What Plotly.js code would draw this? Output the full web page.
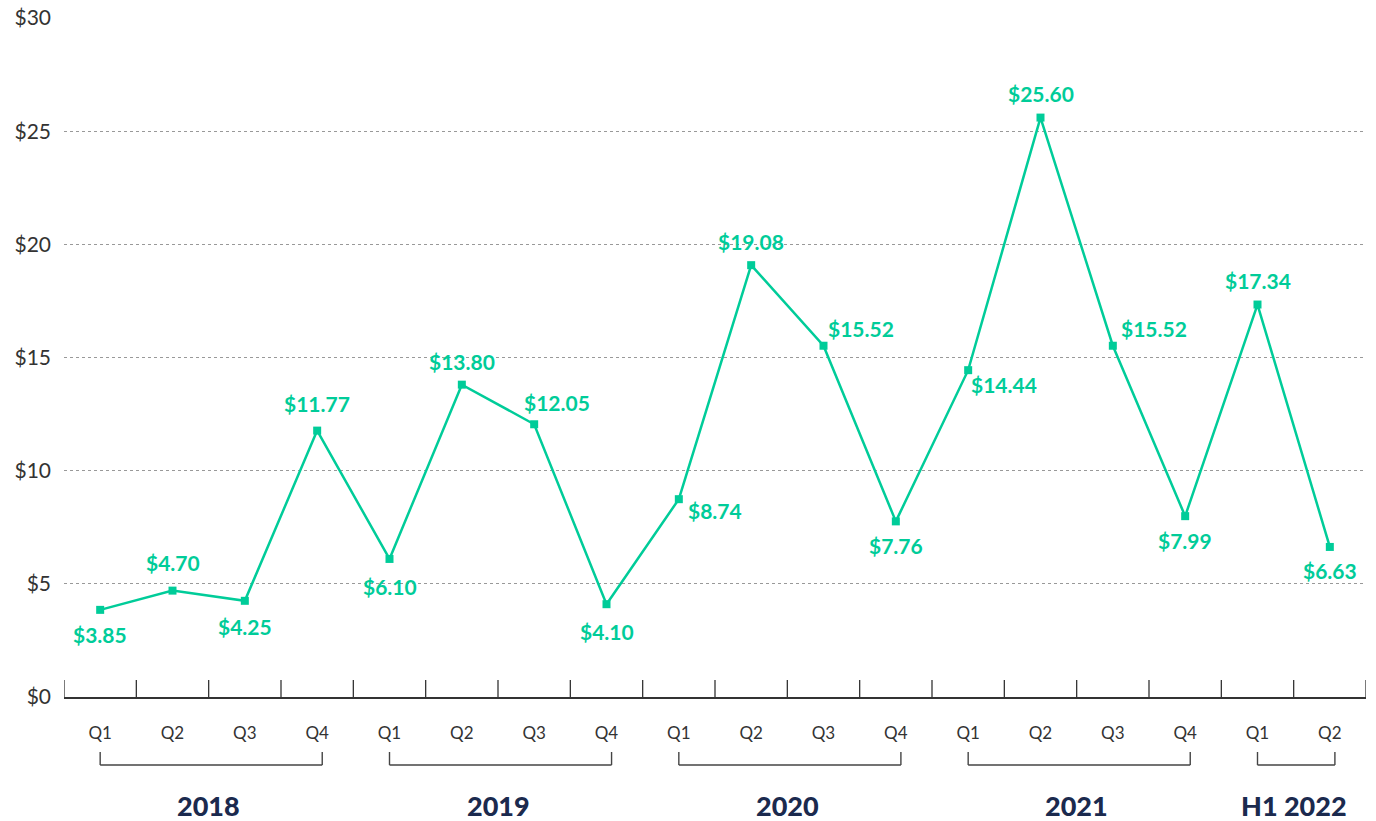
<!DOCTYPE html>
<html>
<head>
<meta charset="utf-8">
<script src="https://cdn.plot.ly/plotly-3.0.1.min.js"></script>
<style>html,body{margin:0;padding:0;background:#fff;}#chart{width:1376px;height:821px;}</style>
</head>
<body>
<div id="chart"></div>
<script>
// Data
const quarters = ["Q1","Q2","Q3","Q4","Q1","Q2","Q3","Q4","Q1","Q2","Q3","Q4","Q1","Q2","Q3","Q4","Q1","Q2"];
const values = [3.85, 4.70, 4.25, 11.77, 6.10, 13.80, 12.05, 4.10, 8.74, 19.08, 15.52, 7.76, 14.44, 25.60, 15.52, 7.99, 17.34, 6.63];
const groupLabels = ["2018", "2019", "2020", "2021", "H1 2022"];
const groupSizes = [4, 4, 4, 4, 2];
const yTickVals = [0, 5, 10, 15, 20, 25, 30];
const yTickText = ["$0", "$5", "$10", "$15", "$20", "$25", "$30"];

// Style: label placement (pixel shifts) per point
const labelDX = [0,0,0,0, 0,0,23,0, 36,0,37,0, 36,0,41,0, 0,0];
const labelDY = [-25,28,-26,27, -28,23,22,-27, -11,24,17,-24, -14,24,17,-24, 24,-24];
const teal = "#00cc99";
const font = "Lato, sans-serif";
const xIdx = quarters.map((_, i) => i);

const trace = {
  x: xIdx, y: values, type: "scatter", mode: "lines+markers",
  line: {color: teal, width: 2.5},
  marker: {symbol: "square", size: 8, color: teal},
  cliponaxis: false, hoverinfo: "skip"
};

const shapes = [];
const annotations = values.map((v, i) => ({
  xref: "x", yref: "y", x: i, y: v, text: "$" + v.toFixed(2), showarrow: false,
  xanchor: "center", yanchor: "middle", xshift: labelDX[i], yshift: labelDY[i],
  font: {family: font, size: 21, color: teal, weight: "bold"}
}));
let start = 0;
groupSizes.forEach((n, g) => {
  const a = start, b = start + n - 1;
  const line = {color: "#444", width: 1.4};
  shapes.push({type: "line", xref: "x", yref: "paper", x0: a, x1: b + 0.07, y0: -0.1001, y1: -0.1001, line});
  shapes.push({type: "line", xref: "x", yref: "paper", x0: a, x1: a, y0: -0.1001, y1: -0.081, line});
  shapes.push({type: "line", xref: "x", yref: "paper", x0: b + 0.07, x1: b + 0.07, y0: -0.1001, y1: -0.081, line});
  annotations.push({xref: "x", yref: "paper", x: (a + b) / 2, y: -0.1605, text: groupLabels[g],
    showarrow: false, yanchor: "middle", xanchor: "center",
    font: {family: font, size: 27, color: "#1b2a4e", weight: 900}});
  start += n;
});

const layout = {
  width: 1376, height: 821,
  margin: {l: 64, r: 10, t: 18, b: 124},
  paper_bgcolor: "#fff", plot_bgcolor: "#fff",
  showlegend: false,
  xaxis: {
    range: [-0.5, quarters.length - 0.5],
    tickmode: "array", tickvals: xIdx, ticktext: quarters,
    showgrid: false, zeroline: false,
    showline: true, linecolor: "#333", linewidth: 1.5,
    ticks: "", ticklabelstandoff: 20,
    tickfont: {family: font, size: 17, color: "#333"}
  },
  yaxis: {
    range: [0, 30], tickmode: "array", tickvals: yTickVals, ticktext: yTickText,
    showgrid: true, gridcolor: "#999", griddash: "dot", gridwidth: 1,
    zeroline: false, showline: false, ticks: "", ticklabelstandoff: 12,
    tickfont: {family: font, size: 21, color: "#333"}
  },
  shapes: shapes.concat(
    Array.from({length: quarters.length + 1}, (_, i) => ({
      type: "line", xref: "x", yref: "paper", x0: i - 0.5, x1: i - 0.5, y0: 0, y1: 0.025,
      line: {color: "#333", width: 1.3}
    }))
  ),
  annotations
};

Plotly.newPlot("chart", [trace], layout, {displayModeBar: false, staticPlot: true});
</script>
</body>
</html>
